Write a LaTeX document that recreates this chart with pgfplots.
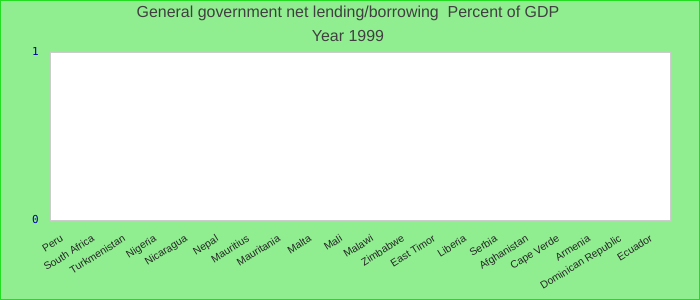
\documentclass[border=0pt]{standalone}
\usepackage{pgfplots}
\pgfplotsset{compat=1.18}
\usetikzlibrary{backgrounds}
\usepackage{fontspec}
\setmainfont{Liberation Sans}
\newfontfamily\monofont{DejaVu Sans Mono}
\definecolor{bg}{HTML}{90EE90}
\definecolor{edge}{HTML}{22DD22}
\definecolor{titlegray}{HTML}{404040}
\definecolor{tickblue}{HTML}{0000AA}
\definecolor{frame}{HTML}{CCCCCC}
\begin{document}
\begin{tikzpicture}
\begin{axis}[
  at={(0bp,0bp)}, anchor=south west,
  scale only axis, width=620bp, height=168bp,
  axis background/.style={fill=white},
  axis line style={frame},
  ymin=0, ymax=1, ytick={0,1},
  xmin=-0.5, xmax=19.5,
  xtick={0,...,19},
  xticklabels={Peru,South Africa,Turkmenistan,Nigeria,Nicaragua,Nepal,Mauritius,Mauritania,Malta,Mali,Malawi,Zimbabwe,East Timor,Liberia,Serbia,Afghanistan,Cape Verde,Armenia,Dominican Republic,Ecuador},
  xticklabel style={rotate=32, anchor=north east, font=\fontsize{10.5}{12}\selectfont, text=black!85, inner sep=0pt, xshift=-12bp, yshift=-9bp},
  yticklabel style={font=\monofont\fontsize{11}{12}\selectfont, text=tickblue, inner sep=0pt, xshift=-11bp},
  /pgf/number format/assume math mode=true,
  major tick length=0pt,
  ybar, bar width=20bp,
]
\addplot[draw=none, fill=none] coordinates {
(0,0) (1,0) (2,0) (3,0) (4,0) (5,0) (6,0) (7,0) (8,0) (9,0)
(10,0) (11,0) (12,0) (13,0) (14,0) (15,0) (16,0) (17,0) (18,0) (19,0)};
\end{axis}
\begin{scope}[on background layer]
\fill[bg] (-50bp,-80bp) rectangle (650bp,220bp);
\draw[edge, line width=1.5bp] (-49.25bp,-79.25bp) rectangle (649.25bp,219.25bp);
\end{scope}
\useasboundingbox (-50bp,-80bp) rectangle (650bp,220bp);
\node[titlegray, font=\fontsize{16}{18}\selectfont] at (298bp,207bp) {General government net lending/borrowing\ \ Percent of GDP};
\node[titlegray, font=\fontsize{16}{18}\selectfont] at (298bp,184bp) {Year 1999};
\end{tikzpicture}
\end{document}
